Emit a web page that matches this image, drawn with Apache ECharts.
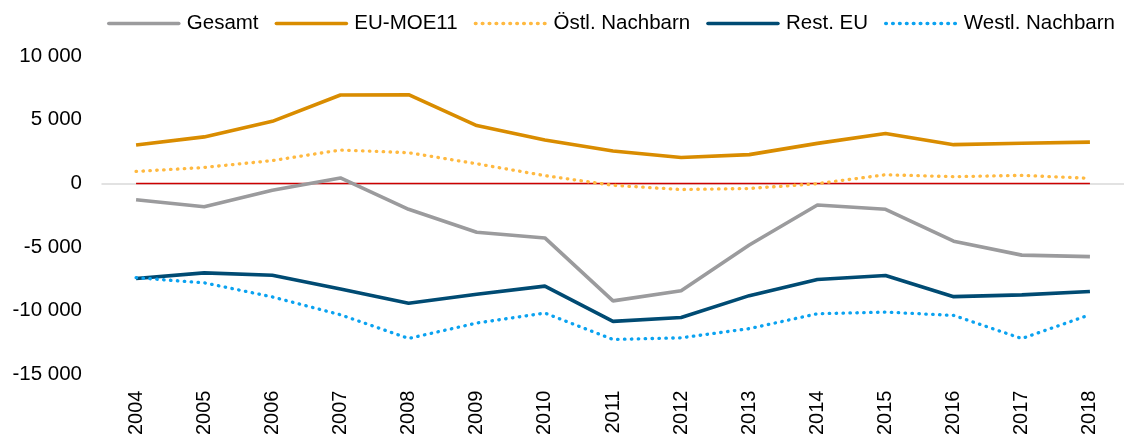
<!DOCTYPE html>
<html>
<head>
<meta charset="utf-8">
<script src="https://cdn.jsdelivr.net/npm/echarts@6/dist/echarts.min.js"></script>
<style>
  html, body { margin: 0; padding: 0; background: #fff; }
  #chart { width: 1124px; height: 438px; }
</style>
</head>
<body>
<div id="chart"></div>
<script>
const years = ['2004', '2005', '2006', '2007', '2008', '2009', '2010', '2011', '2012', '2013', '2014', '2015', '2016', '2017', '2018']
const gesamt = [-1280, -1830, -530, 430, -2030, -3840, -4280, -9220, -8420, -4830, -1700, -2030, -4540, -5630, -5750]
const euMoe11 = [3010, 3650, 4870, 6940, 6960, 4540, 3400, 2540, 2030, 2260, 3140, 3920, 3040, 3150, 3240]
const oestlNachbarn = [940, 1250, 1790, 2620, 2410, 1540, 610, -150, -480, -400, -20, 680, 530, 630, 400]
const restEu = [-7460, -7020, -7210, -8290, -9400, -8700, -8060, -10830, -10520, -8810, -7540, -7230, -8890, -8750, -8480]
const westlNachbarn = [-7400, -7800, -8910, -10310, -12170, -10960, -10180, -12250, -12120, -11400, -10230, -10100, -10360, -12180, -10310]
const nullLinie = [0, 0, 0, 0, 0, 0, 0, 0, 0, 0, 0, 0, 0, 0, 0]
const yTicks = { min: -15000, max: 10000, interval: 5000 }

const font = 'Liberation Sans, Arial, sans-serif'
const dots = { type: [0.5, 6.4], cap: 'round', width: 3.3 }

const chart = echarts.init(document.getElementById('chart'))

function fmt(v) {
  const s = String(Math.abs(v)).replace(/\B(?=(\d{3})+(?!\d))/g, ' ')
  return (v < 0 ? '-' : '') + s
}

const option = {
  animation: false,
  textStyle: { fontFamily: font },
  legend: {
    data: ['Gesamt', 'EU-MOE11', 'Östl. Nachbarn', 'Rest. EU', 'Westl. Nachbarn'],
    left: 102,
    top: 8,
    itemWidth: 70,
    itemHeight: 2,
    itemGap: 16,
    itemStyle: { opacity: 0 },
    lineStyle: { width: 3.6, cap: 'round' },
    textStyle: { fontSize: 20.5, color: '#000', fontFamily: font, padding: [0, 0, 0, 3] }
  },
  grid: {
    left: 102,
    right: -7,
    top: 56,
    bottom: 61
  },
  xAxis: [
    {
      type: 'category',
      data: years,
      boundaryGap: true,
      axisLine: { onZero: true, lineStyle: { color: '#d9d9d9', width: 1.5 } },
      axisTick: { show: false },
      axisLabel: { show: false }
    },
    {
      type: 'category',
      data: years,
      position: 'bottom',
      boundaryGap: true,
      axisLine: { show: false, onZero: false },
      axisTick: { show: false },
      axisLabel: {
        rotate: 90,
        margin: 16,
        fontSize: 20,
        color: '#000',
        fontFamily: font
      }
    }
  ],
  yAxis: {
    type: 'value',
    min: yTicks.min,
    max: yTicks.max,
    interval: yTicks.interval,
    axisLine: { show: false },
    axisTick: { show: false },
    splitLine: { show: false },
    axisLabel: {
      margin: 20,
      fontSize: 20.5,
      color: '#000',
      fontFamily: font,
      formatter: fmt
    }
  },
  series: [
    {
      name: 'Null',
      type: 'line',
      data: nullLinie,
      symbol: 'none',
      silent: true,
      lineStyle: { color: '#cc0000', width: 1.5 }
    },
    {
      name: 'Gesamt',
      type: 'line',
      data: gesamt,
      symbol: 'none',
      itemStyle: { color: '#9b9b9d' },
      lineStyle: { color: '#9b9b9d', width: 3.6 }
    },
    {
      name: 'EU-MOE11',
      type: 'line',
      data: euMoe11,
      symbol: 'none',
      itemStyle: { color: '#d98c00' },
      lineStyle: { color: '#d98c00', width: 3.6 }
    },
    {
      name: 'Östl. Nachbarn',
      type: 'line',
      data: oestlNachbarn,
      symbol: 'none',
      itemStyle: { color: '#ffb940' },
      lineStyle: Object.assign({ color: '#ffb940' }, dots)
    },
    {
      name: 'Rest. EU',
      type: 'line',
      data: restEu,
      symbol: 'none',
      itemStyle: { color: '#004b73' },
      lineStyle: { color: '#004b73', width: 3.6 }
    },
    {
      name: 'Westl. Nachbarn',
      type: 'line',
      data: westlNachbarn,
      symbol: 'none',
      itemStyle: { color: '#0aa2f0' },
      lineStyle: Object.assign({ color: '#0aa2f0' }, dots)
    }
  ]
}

chart.setOption(option)
</script>
</body>
</html>
